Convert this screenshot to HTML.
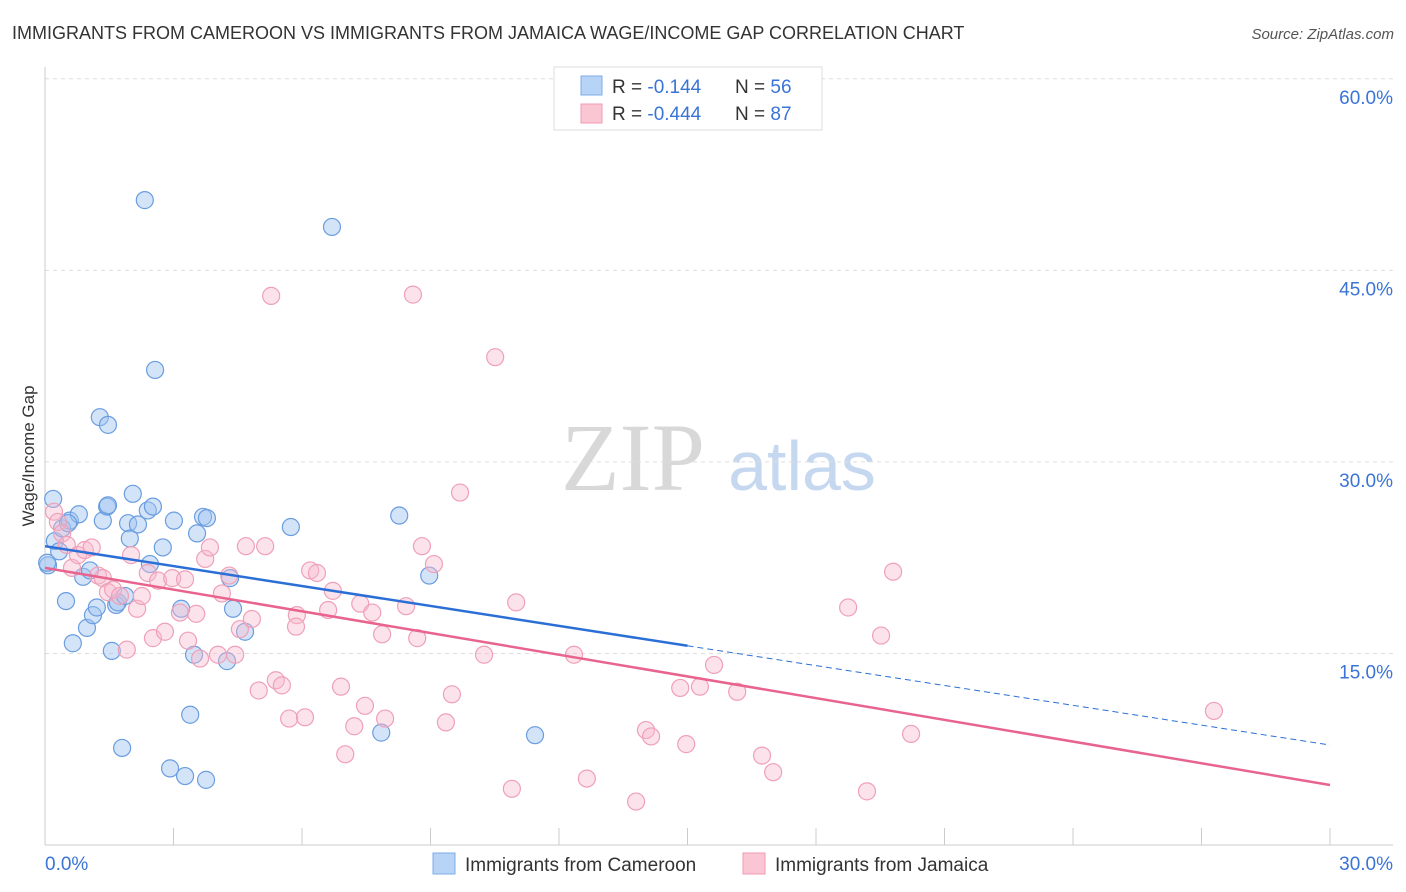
<!DOCTYPE html>
<html><head><meta charset="utf-8"><style>
body{margin:0;background:#fff;font-family:"Liberation Sans",sans-serif}
svg{display:block}
</style></head><body>
<svg id="chart" width="1406" height="892" xmlns="http://www.w3.org/2000/svg">
<text x="12" y="39" font-size="18" fill="#333">IMMIGRANTS FROM CAMEROON VS IMMIGRANTS FROM JAMAICA WAGE/INCOME GAP CORRELATION CHART</text>
<text x="1394" y="39" font-size="15" fill="#555" font-style="italic" text-anchor="end">Source: ZipAtlas.com</text>
<g>
<text x="633" y="490" font-family="Liberation Serif,serif" font-size="96" fill="#d8d8d8" text-anchor="middle">ZIP</text>
<text x="802" y="490" font-size="70" fill="#c5d8f0" text-anchor="middle">atlas</text>
</g>
<g id="grid"></g>
<g id="axes"></g>
<g id="points"></g>
<g id="trends"></g>
<text transform="translate(34,456) rotate(-90)" font-size="17" fill="#333" text-anchor="middle">Wage/Income Gap</text>
<g>
<rect x="554" y="67" width="268" height="63" fill="#fff" stroke="#ddd"/>
<rect x="581" y="76" width="21" height="19" fill="#b7d3f5" stroke="#7eaee8"/>
<rect x="581" y="104" width="21" height="19" fill="#fac6d4" stroke="#f09ab2"/>
<text x="612" y="93" font-size="19" fill="#333">R =  <tspan fill="#3a74d6">-0.144</tspan><tspan x="735">N = </tspan><tspan fill="#3a74d6">56</tspan></text>
<text x="612" y="120" font-size="19" fill="#333">R = <tspan fill="#3a74d6">-0.444</tspan><tspan x="735">N = </tspan><tspan fill="#3a74d6">87</tspan></text>
</g>
<g>
<rect x="433" y="853" width="22" height="21" fill="#b7d3f5" stroke="#7eaee8"/>
<text x="465" y="871" font-size="19" fill="#333">Immigrants from Cameroon</text>
<rect x="743" y="853" width="22" height="21" fill="#fac6d4" stroke="#f09ab2"/>
<text x="775" y="871" font-size="19" fill="#333">Immigrants from Jamaica</text>
</g>
</svg>
<script>
const yTicks=[15,30,45,60];
const yTickLabels=["15.0%","30.0%","45.0%","60.0%"];
const xTickVals=[0,3,6,9,12,15,18,21,24,27,30];
const xEndLabels=["0.0%","30.0%"];
const cameroonX=[0.19,0.07,0.23,0.33,0.40,0.49,0.58,0.65,0.79,0.89,0.98,1.05,1.12,1.21,1.35,1.45,1.28,1.47,1.56,1.66,1.70,1.80,1.87,1.94,1.98,2.05,2.17,2.33,2.40,2.45,2.52,2.57,2.75,2.92,3.01,3.18,3.27,3.39,3.48,3.55,3.69,3.78,3.76,4.25,4.32,4.39,4.67,5.74,6.70,7.85,8.27,8.97,11.44,1.47,0.54,0.05];
const cameroonY=[27.1,21.9,23.8,23.0,24.8,19.1,25.4,15.8,25.9,21.0,17.0,21.5,18.0,18.6,25.4,26.5,33.5,32.9,15.2,18.8,19.0,7.6,19.5,25.2,24.0,27.5,25.1,50.5,26.2,22.0,26.5,37.2,23.3,6.0,25.4,18.5,5.4,10.2,14.9,24.4,25.7,25.6,5.1,14.4,20.9,18.5,16.7,24.9,48.4,8.8,25.8,21.1,8.6,26.6,25.2,22.1];
const jamaicaX=[0.21,0.30,0.40,0.51,0.63,0.77,0.93,1.09,1.24,1.35,1.47,1.59,1.75,1.91,2.01,2.15,2.26,2.40,2.52,2.64,2.80,2.97,3.15,3.27,3.34,3.53,3.62,3.74,3.85,4.04,4.13,4.30,4.44,4.55,4.69,4.83,4.99,5.14,5.28,5.39,5.53,5.70,5.88,5.86,6.07,6.19,6.35,6.61,6.72,6.91,7.01,7.22,7.36,7.47,7.64,7.87,7.94,8.43,8.59,8.69,8.80,9.08,9.36,9.50,9.69,10.25,10.51,10.90,11.00,12.35,12.65,13.80,14.03,14.15,14.83,14.97,15.29,15.62,16.16,16.74,17.00,18.75,19.19,19.52,19.80,20.22,27.29];
const jamaicaY=[26.1,25.3,24.4,23.5,21.7,22.7,23.1,23.3,21.1,20.9,19.8,20.0,19.5,15.3,22.7,18.5,19.5,21.3,16.2,20.7,16.7,20.9,18.2,20.8,16.0,18.1,14.6,22.4,23.3,14.9,19.7,21.1,14.9,16.9,23.4,17.7,12.1,23.4,43.0,12.9,12.5,9.9,18.0,17.1,10.0,21.5,21.3,18.4,19.9,12.4,7.1,9.3,18.9,10.9,18.2,16.5,9.9,18.7,43.1,16.2,23.4,22.0,9.6,11.8,27.6,14.9,38.2,4.4,19.0,14.9,5.2,3.4,9.0,8.5,12.3,7.9,12.4,14.1,12.0,7.0,5.7,18.6,4.2,16.4,21.4,8.7,10.5];
const trendCamX=[0,15,30], trendCamY=[23.4,15.6,7.83];
const trendJamX=[0,30], trendJamY=[21.7,4.7];

const X0=45,X1=1330,Y0=845,YPX=12.77;
const sx=v=>X0+(X1-X0)*v/30;
const sy=v=>Y0-v*YPX;
const NS="http://www.w3.org/2000/svg";
function mk(tag,attrs,parent){const e=document.createElementNS(NS,tag);for(const k in attrs)e.setAttribute(k,attrs[k]);parent.appendChild(e);return e;}
const grid=document.getElementById('grid'),axes=document.getElementById('axes'),pts=document.getElementById('points'),tr=document.getElementById('trends');
yTicks.forEach((t,i)=>{
 const l=mk('line',{x1:X0,x2:1393,y1:sy(t),y2:sy(t),stroke:'#ddd','stroke-dasharray':'4,4'},grid);
 
 
 const tx=mk('text',{x:1393,y:sy(t)+25,'font-size':19,fill:'#3a74d6','text-anchor':'end'},axes);
 tx.textContent=yTickLabels[i];
 
 
});
const ya=mk('line',{x1:X0,x2:X0,y1:67,y2:Y0,stroke:'#ccc'},axes);


const xa=mk('line',{x1:X0,x2:1393,y1:Y0,y2:Y0,stroke:'#ccc'},axes);


xTickVals.forEach(v=>{
 const t=mk('line',{x1:sx(v),x2:sx(v),y1:Y0-17,y2:Y0,stroke:'#ccc'},axes);
 
 
});
const xl0=mk('text',{x:45,y:870,'font-size':19,fill:'#3a74d6'},axes);xl0.textContent=xEndLabels[0];


const xl1=mk('text',{x:1393,y:870,'font-size':19,fill:'#3a74d6','text-anchor':'end'},axes);xl1.textContent=xEndLabels[1];


cameroonX.forEach((v,i)=>{
 const c=mk('circle',{cx:sx(v),cy:sy(cameroonY[i]),r:8.5,fill:'rgba(160,195,240,0.45)',stroke:'#6a9de0','stroke-width':1.2},pts);
 
 
});
jamaicaX.forEach((v,i)=>{
 const c=mk('circle',{cx:sx(v),cy:sy(jamaicaY[i]),r:8.5,fill:'rgba(248,185,205,0.4)',stroke:'#efa0b8','stroke-width':1.2},pts);
 
 
});
const b1=mk('line',{x1:sx(trendCamX[0]),y1:sy(trendCamY[0]),x2:sx(trendCamX[1]),y2:sy(trendCamY[1]),stroke:'#2b6fd6','stroke-width':2.5},tr);


const b2=mk('line',{x1:sx(trendCamX[1]),y1:sy(trendCamY[1]),x2:sx(trendCamX[2]),y2:sy(trendCamY[2]),stroke:'#2b6fd6','stroke-width':1,'stroke-dasharray':'6,4'},tr);


const p1=mk('line',{x1:sx(trendJamX[0]),y1:sy(trendJamY[0]),x2:sx(trendJamX[1]),y2:sy(trendJamY[1]),stroke:'#e8648e','stroke-width':2.5},tr);


</script>
</body></html>
